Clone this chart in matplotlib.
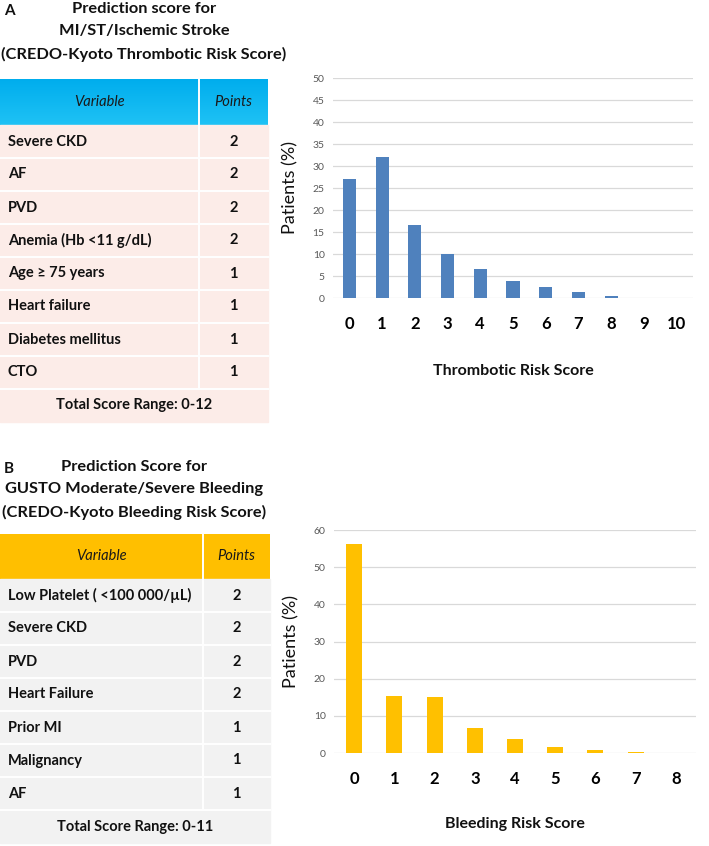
import numpy as np
import matplotlib.pyplot as plt
from matplotlib.patches import Rectangle

plt.rcParams['font.family'] = ['Lato', 'DejaVu Sans']

# ---- panel A data (thrombotic risk) ----
thromb_vars = ['Severe CKD', 'AF', 'PVD', 'Anemia (Hb <11 g/dL)', 'Age \u2265 75 years',
               'Heart failure', 'Diabetes mellitus', 'CTO']
thromb_pts = [2, 2, 2, 2, 1, 1, 1, 1]
thromb_title = ['Prediction score for', 'MI/ST/Ischemic Stroke',
                '(CREDO-Kyoto Thrombotic Risk Score)']
thromb_total = 'Total Score Range: 0-12'
thromb_scores = list(range(11))
thromb_pct = [27, 32, 16.5, 10, 6.5, 3.9, 2.4, 1.3, 0.5, 0.1, 0.05]

# ---- panel B data (bleeding risk) ----
bleed_vars = ['Low Platelet ( <100 000/\u00b5L)', 'Severe CKD', 'PVD', 'Heart Failure',
              'Prior MI', 'Malignancy', 'AF']
bleed_pts = [2, 2, 2, 2, 1, 1, 1]
bleed_title = ['Prediction Score for', 'GUSTO Moderate/Severe Bleeding',
               '(CREDO-Kyoto Bleeding Risk Score)']
bleed_total = 'Total Score Range: 0-11'
bleed_scores = list(range(9))
bleed_pct = [56.2, 15.4, 15.0, 6.8, 3.8, 1.6, 0.7, 0.2, 0.1]

W, H = 709, 846
fig = plt.figure(figsize=(W / 100, H / 100), dpi=100)

# layout axes in pixel coords for the tables / titles
lay = fig.add_axes([0, 0, 1, 1])
lay.set_xlim(0, W)
lay.set_ylim(H, 0)
lay.axis('off')


def draw_table(top, head_h, row_h, split, right, names, pts, total,
               head_cols, row_col):
    # header (vertical gradient)
    grad = np.linspace(head_cols[0], head_cols[1], 50).reshape(50, 1, 3)
    lay.imshow(grad, extent=(0, right, top + head_h, top), origin='upper',
               aspect='auto', zorder=1)
    lay.set_xlim(0, W)
    lay.set_ylim(H, 0)
    yc = top + head_h / 2
    lay.text(split / 2, yc, 'Variable', style='italic', fontsize=10.5,
             ha='center', va='center', color='#1a1a1a', zorder=3)
    lay.text((split + right) / 2, yc, 'Points', style='italic', fontsize=10.5,
             ha='center', va='center', color='#1a1a1a', zorder=3)
    y = top + head_h
    n = len(names)
    lay.add_patch(Rectangle((0, y), right, row_h * (n + 1), color=row_col, zorder=1))
    for name, p in zip(names, pts):
        lay.text(8, y + row_h / 2, name, fontweight='bold', fontsize=10.5,
                 ha='left', va='center', color='#111111', zorder=3)
        lay.text((split + right) / 2, y + row_h / 2, str(p), fontweight='bold',
                 fontsize=10.5, ha='center', va='center', color='#111111', zorder=3)
        y += row_h
        lay.plot([0, right], [y, y], color='white', lw=1.4, zorder=2)
    lay.text(right / 2, y + row_h / 2, total, fontweight='bold', fontsize=10.5,
             ha='center', va='center', color='#111111', zorder=3)
    lay.plot([split, split], [top, y], color='white', lw=1.4, zorder=2)


def draw_title(letter, lines, y0, xc):
    lay.text(4, y0 + 2, letter, fontweight='bold', fontsize=11, ha='left',
             va='center', color='#111111')
    for i, ln in enumerate(lines):
        lay.text(xc, y0 + i * 22.5, ln, fontweight='bold', fontsize=11.8,
                 ha='center', va='center', color='#111111')


draw_title('A', thromb_title, 9, 144)
draw_table(79, 46, 33, 199, 268, thromb_vars, thromb_pts, thromb_total,
           [(0.0, 0.68, 0.93), (0.12, 0.76, 0.96)], '#FCECE8')

draw_title('B', bleed_title, 467, 134)
draw_table(534, 45, 33, 203, 270, bleed_vars, bleed_pts, bleed_total,
           [(1.0, 0.75, 0.0), (1.0, 0.75, 0.0)], '#F2F2F2')


def bar_panel(rect, scores, pct, color, ymax, ystep, xlabel, lab_y):
    ax = fig.add_axes(rect)
    ax.bar(scores, pct, width=0.4, color=color, zorder=3)
    ax.set_xlim(-0.5, len(scores) - 0.5)
    ax.set_ylim(0, ymax)
    ax.set_yticks(np.arange(0, ymax + 1, ystep))
    ax.set_xticks(scores)
    ax.grid(axis='y', color='#D9D9D9', lw=0.9, zorder=0)
    for s in ax.spines.values():
        s.set_visible(False)
    ax.tick_params(axis='y', length=0, labelsize=7.5, labelcolor='#595959', pad=6)
    ax.tick_params(axis='x', length=0, labelsize=12, pad=13)
    for t in ax.get_xticklabels():
        t.set_fontweight('bold')
    ax.set_ylabel('Patients (%)', fontsize=13, color='#111111')
    ax.yaxis.set_label_coords(-0.095, 0.5)
    ax.set_xlabel(xlabel, fontsize=11.5, fontweight='bold', color='#111111')
    ax.xaxis.set_label_coords(0.5, lab_y)
    return ax


bar_panel([333 / W, 1 - 298 / H, 360 / W, 220 / H], thromb_scores, thromb_pct,
          '#4F81BD', 50, 5, 'Thrombotic Risk Score', -0.30)
bar_panel([334 / W, 1 - 753 / H, 362 / W, 223 / H], bleed_scores, bleed_pct,
          '#FFC000', 60, 10, 'Bleeding Risk Score', -0.287)

fig.savefig('out.png', dpi=100)
